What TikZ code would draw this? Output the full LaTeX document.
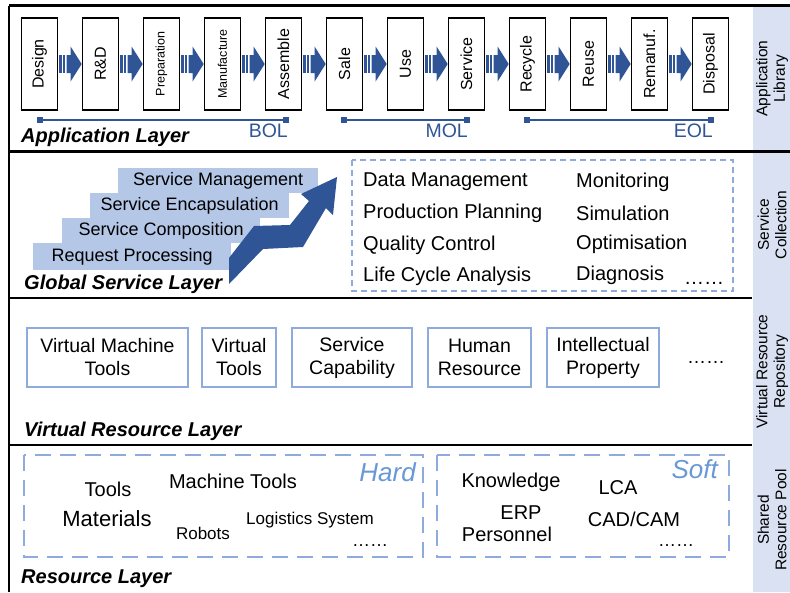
\documentclass[tikz,border=0pt]{standalone}
\usepackage{fontspec}
\setmainfont{Liberation Sans}
\usepackage{tikz}
\usetikzlibrary{arrows.meta}

\definecolor{arrowblue}{RGB}{47,85,151}
\definecolor{stairblue}{RGB}{180,199,231}
\definecolor{dashblue}{RGB}{143,170,220}
\definecolor{sideblue}{RGB}{217,225,242}
\definecolor{hardblue}{RGB}{104,152,214}

\begin{document}
\begin{tikzpicture}[x=1pt,y=-1pt,
  stagebox/.style={draw,line width=1.6pt,fill=white,minimum width=36pt,minimum height=92pt,inner sep=0pt,font=\fontsize{16}{18}\selectfont},
  smallstage/.style={stagebox,font=\fontsize{12.5}{14}\selectfont},
  stripearrow/.pic={
    \fill[arrowblue] (0.8,-9) rectangle (3.3,9);
    \fill[arrowblue] (4.6,-9) rectangle (7.1,9);
    \fill[arrowblue] (8.4,-9) -- (12.3,-9) -- (12.3,-17.5) -- (23.4,0) -- (12.3,17.5) -- (12.3,9) -- (8.4,9) -- cycle;
  },
  lifeline/.style={arrowblue,line width=1.2pt,{Square[length=6pt,width=6pt]}-{Square[length=6pt,width=6pt]}},
  phase/.style={text=arrowblue,inner sep=0pt,font=\fontsize{19.5}{22}\selectfont},
  layer/.style={inner sep=0pt,font=\fontsize{20}{22}\selectfont\bfseries\itshape},
  stair/.style={fill=stairblue,inner sep=0pt,minimum height=25pt,anchor=north west,font=\fontsize{18}{20}\selectfont},
  item/.style={inner sep=0pt,anchor=west,font=\fontsize{20}{22}\selectfont},
  vbox/.style={draw=dashblue,line width=2pt,minimum height=59pt,inner sep=0pt,align=center,font=\fontsize{19.5}{23}\selectfont},
  res/.style={inner sep=0pt,font=\fontsize{#1}{#1}\selectfont},
  kind/.style={text=hardblue,inner sep=0pt,anchor=east,font=\fontsize{26}{28}\selectfont\itshape},
  sidelbl/.style={rotate=90,align=center,inner sep=0pt,font=\fontsize{15.5}{17.5}\selectfont}
]
  \useasboundingbox (0,0) rectangle (790,592);
  \clip (0,0) rectangle (790,592);

  %layout
  \fill[sideblue] (753,7) rectangle (790,592);
  \draw[line width=2.8pt] (9,5.5) -- (790,5.5);
  \draw[line width=2.2pt] (9,5.5) -- (9,592);
  \draw[line width=2.6pt] (9,151.5) -- (790,151.5);
  \draw[line width=2.6pt] (9,298) -- (752,298);
  \draw[line width=2.6pt] (9,445) -- (752,445);

  %side labels
  \node[sidelbl] (applib) at (772,78.5) {Application\\Library};
  \node[sidelbl] (svccol) at (772,225) {Service\\Collection};
  \node[sidelbl] (vrrepo) at (772,371.5) {Virtual Resource\\Repository};
  \node[sidelbl] (srpool) at (772,520) {Shared\\Resource Pool};

  %application layer
  %life cycle stages
  \node[stagebox] (des) at (39.5,64) {\rotatebox{90}{Design}};
  \node[stagebox] (rnd) at (100.5,64) {\rotatebox{90}{R\&D}};
  \node[smallstage] (prep) at (161.5,64) {\rotatebox{90}{Preparation}};
  \node[smallstage] (manu) at (222.5,64) {\rotatebox{90}{Manufacture}};
  \node[stagebox] (asm) at (283.5,64) {\rotatebox{90}{Assemble}};
  \node[stagebox] (sale) at (344.5,64) {\rotatebox{90}{Sale}};
  \node[stagebox] (use) at (405.5,64) {\rotatebox{90}{Use}};
  \node[stagebox] (serv) at (466.5,64) {\rotatebox{90}{Service}};
  \node[stagebox] (recy) at (527.5,64) {\rotatebox{90}{Recycle}};
  \node[stagebox] (reuse) at (588.5,64) {\rotatebox{90}{Reuse}};
  \node[stagebox] (reman) at (649.5,64) {\rotatebox{90}{Remanuf.}};
  \node[stagebox] (disp) at (710.5,64) {\rotatebox{90}{Disposal}};

  %striped arrows
  \pic at (des.east) {stripearrow};
  \pic at (rnd.east) {stripearrow};
  \pic at (prep.east) {stripearrow};
  \pic at (manu.east) {stripearrow};
  \pic at (asm.east) {stripearrow};
  \pic at (sale.east) {stripearrow};
  \pic at (use.east) {stripearrow};
  \pic at (serv.east) {stripearrow};
  \pic at (recy.east) {stripearrow};
  \pic at (reuse.east) {stripearrow};
  \pic at (reman.east) {stripearrow};

  %BOL / MOL / EOL
  \coordinate (bolL) at (36.5,120);
  \coordinate (bolR) at (289,120);
  \coordinate (molL) at (341,120);
  \coordinate (molR) at (469.5,120);
  \coordinate (eolL) at (524,120);
  \coordinate (eolR) at (713.5,120);
  \draw[lifeline] (bolL) -- (bolR);
  \draw[lifeline] (molL) -- (molR);
  \draw[lifeline] (eolL) -- (eolR);
  \node[phase,anchor=east] (bol) at (288,131) {BOL};
  \node[phase,anchor=east] (mol) at (468,131) {MOL};
  \node[phase,anchor=east] (eol) at (713,131) {EOL};

  %labels
  \node[layer,anchor=west] (applayer) at (21,137) {Application Layer};

  %global service layer
  %stairs
  \node[stair,minimum width=200pt] (smgmt) at (118,168) {Service Management};
  \node[stair,minimum width=199pt] (sencap) at (90,193) {Service Encapsulation};
  \node[stair,minimum width=198pt] (scomp) at (62,218) {Service Composition};
  \node[stair,minimum width=198pt,minimum height=27pt] (sreq) at (33,243) {Request Processing};

  %rising arrow
  \fill[arrowblue] (229,284) -- (229,258) -- (254,226) -- (290,225) -- (309,201) -- (301,194)
    -- (337,177) -- (333,215) -- (326,208) -- (303,247) -- (263,249) -- cycle;

  %service collection
  \draw[dashblue,line width=2pt,dash pattern=on 6pt off 4pt] (352,160) rectangle (733,291);
  \node[item] (datam) at (363,182) {Data Management};
  \node[item] (prodp) at (363,213) {Production Planning};
  \node[item] (qualc) at (363,245) {Quality Control};
  \node[item] (lca1) at (363,276) {Life Cycle Analysis};
  \node[item] (monit) at (576,182) {Monitoring};
  \node[item] (simul) at (576,213) {Simulation};
  \node[item] (optim) at (576,244) {Optimisation};
  \node[item] (diagn) at (576,275) {Diagnosis};
  \node[item] (svcmore) at (684,283) {……};

  %labels
  \node[layer,anchor=west] (gslayer) at (24,284) {Global Service Layer};

  %virtual resource layer
  \node[vbox,minimum width=161pt] (vmt) at (107.5,357.5) {Virtual Machine\\Tools};
  \node[vbox,minimum width=74pt] (vtools) at (239,357.5) {Virtual\\Tools};
  \node[vbox,minimum width=120pt] (scap) at (352,357.5) {Service\\Capability};
  \node[vbox,minimum width=103pt] (hres) at (479.5,357.5) {Human\\Resource};
  \node[vbox,minimum width=112pt] (iprop) at (603,357.5) {Intellectual\\Property};
  \node[res=19] (vmore) at (706,362) {……};

  %labels
  \node[layer,anchor=west] (vrlayer) at (24,431) {Virtual Resource Layer};

  %resource layer
  \draw[dashblue,line width=2.5pt,dash pattern=on 16pt off 9pt] (24,455) rectangle (423,557);
  \draw[dashblue,line width=2.5pt,dash pattern=on 16pt off 9pt] (437,455) rectangle (729,557);
  \node[kind] (hard) at (416,472) {Hard};
  \node[kind] (soft) at (718,469) {Soft};

  %hard resources
  \node[res=20] (tools) at (108,489) {Tools};
  \node[res=20] (mtools) at (233,481) {Machine Tools};
  \node[res=22] (mater) at (107,519) {Materials};
  \node[res=17] (robots) at (203,533) {Robots};
  \node[res=17] (logist) at (310,520) {Logistics System};
  \node[res=18] (hmore) at (370,546) {……};

  %soft resources
  \node[res=20] (knowl) at (511,482) {Knowledge};
  \node[res=20] (lca2) at (618,488) {LCA};
  \node[res=20] (erp) at (521,513) {ERP};
  \node[res=20] (person) at (507,534) {Personnel};
  \node[res=20] (cadcam) at (634,519) {CAD/CAM};
  \node[res=18] (smore) at (676,546) {……};

  %labels
  \node[layer,anchor=west] (reslayer) at (21,579) {Resource Layer};

\end{tikzpicture}
\end{document}
